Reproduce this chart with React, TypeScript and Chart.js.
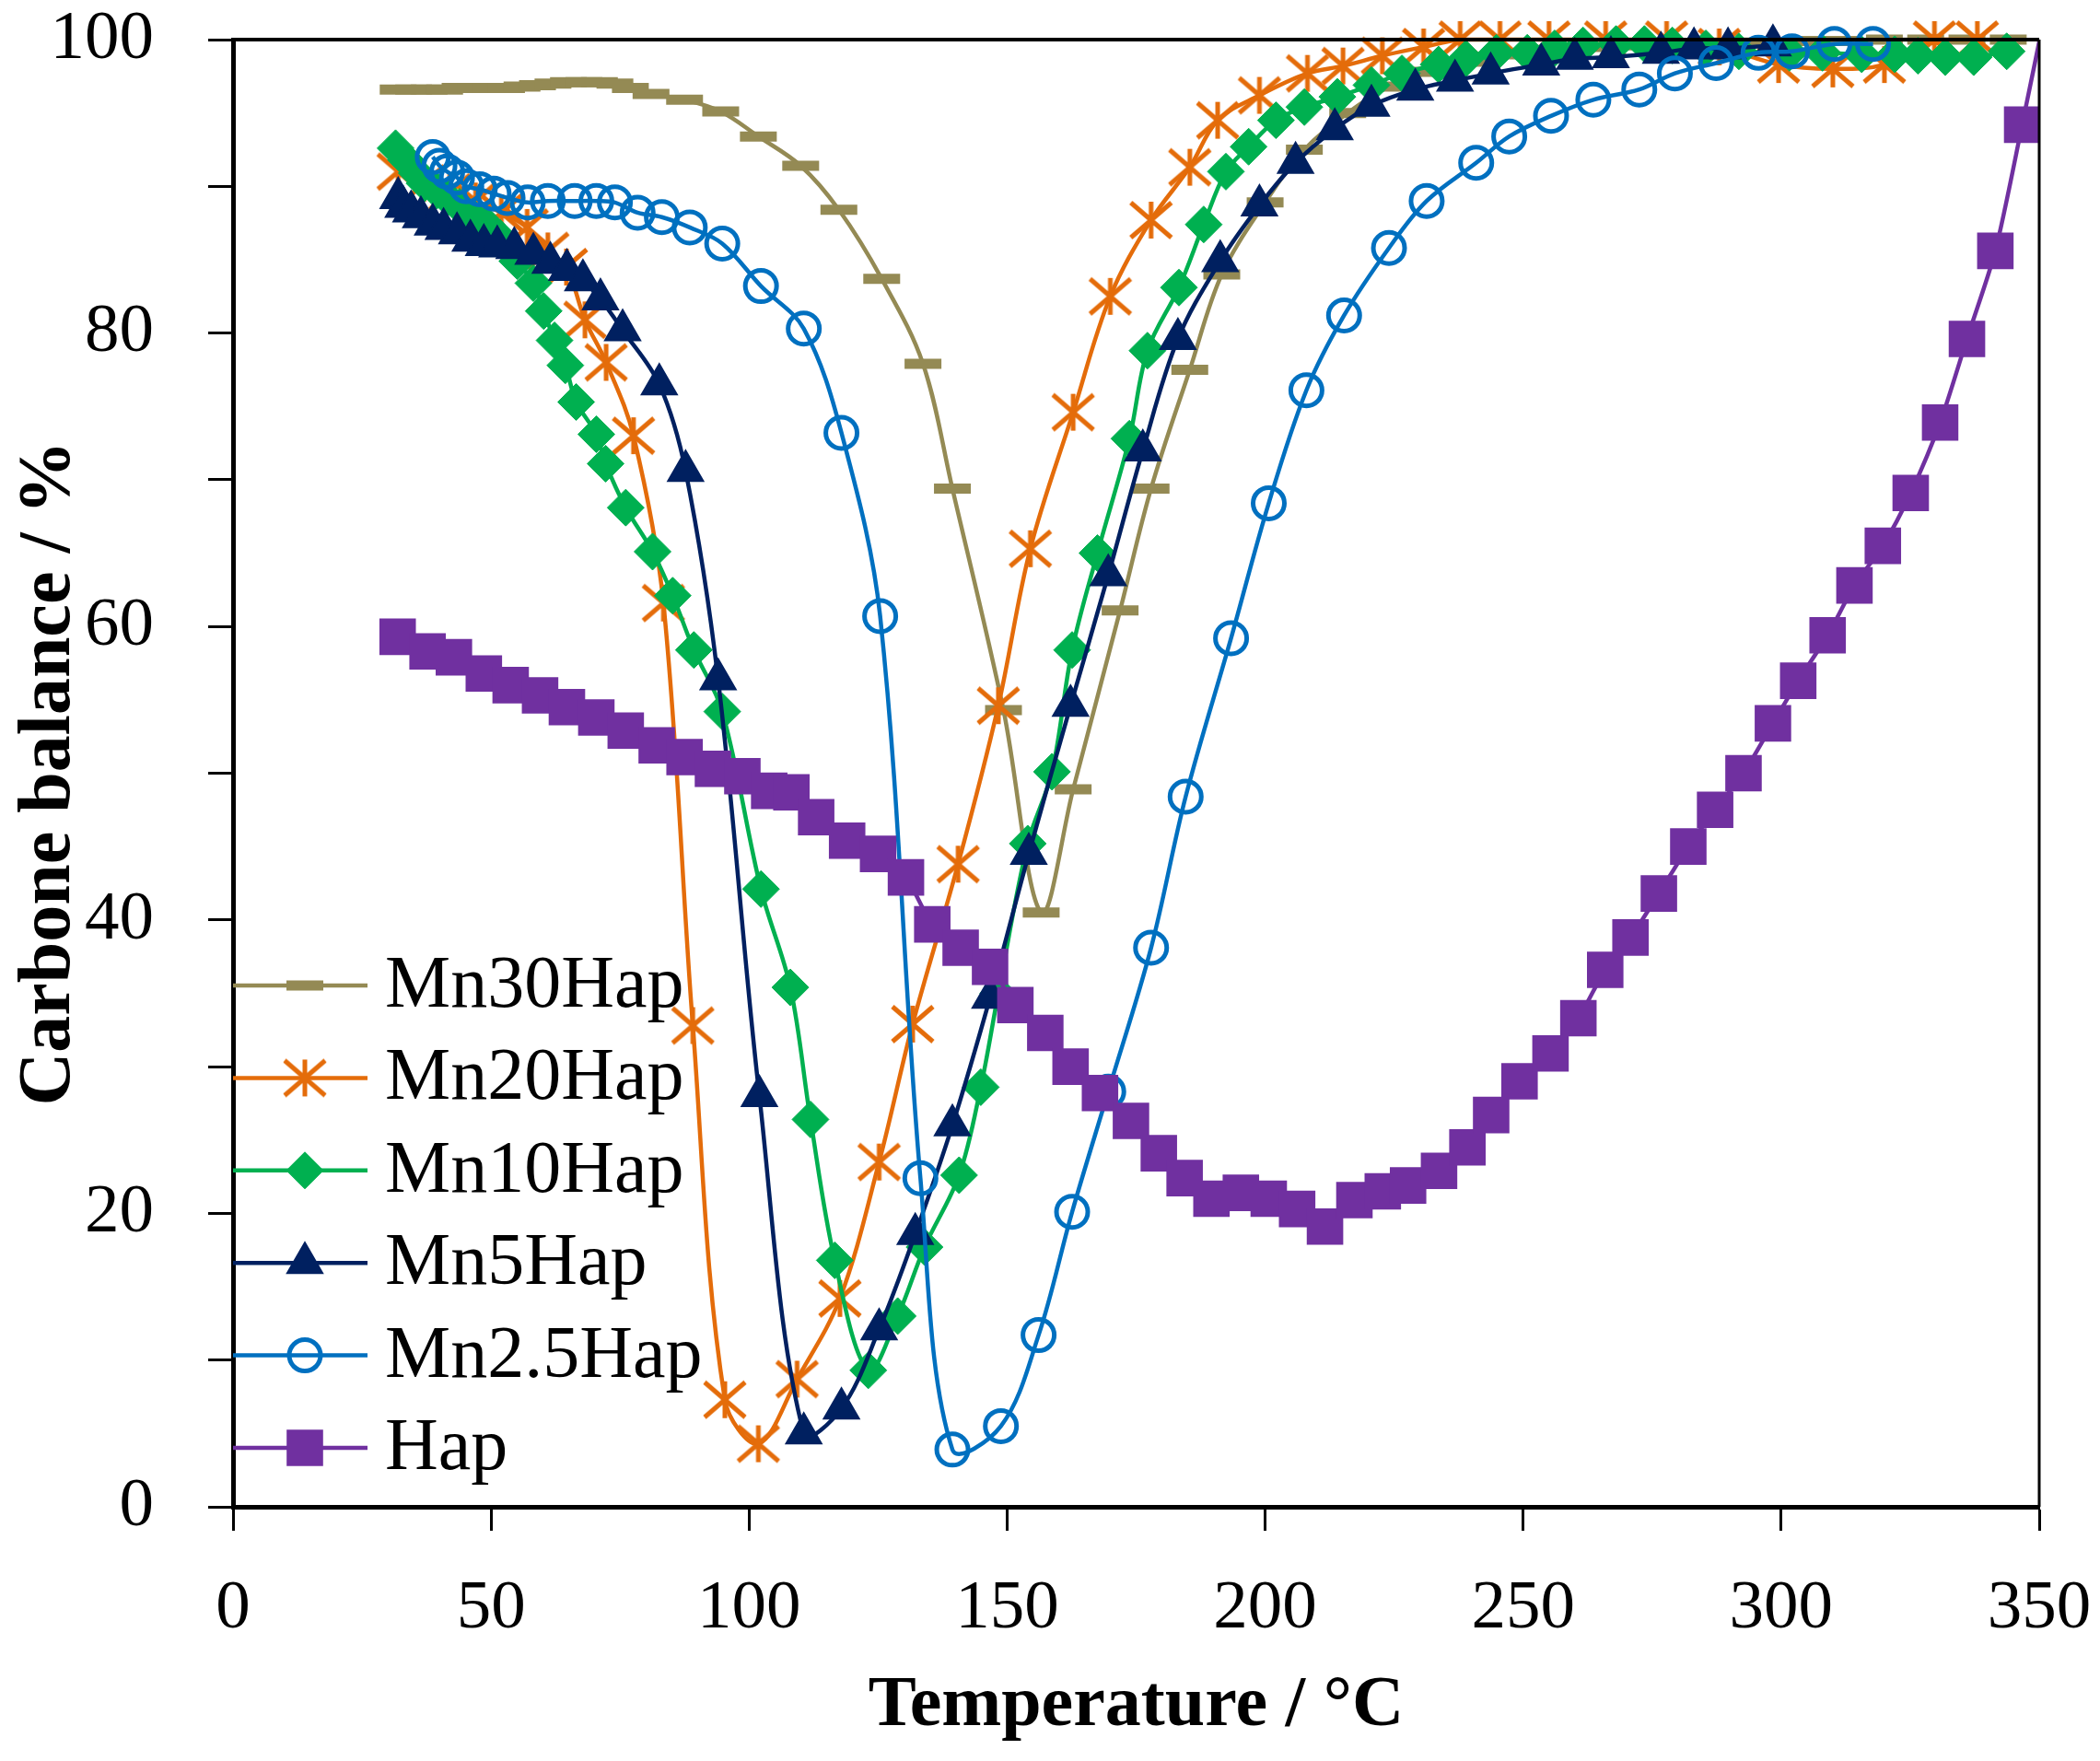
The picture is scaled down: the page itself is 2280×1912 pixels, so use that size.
import React, { useEffect, useRef } from 'react';
import { Chart, registerables } from 'chart.js';
import { drawPoint } from 'chart.js/helpers';

Chart.register(...registerables);

const FONT = '"Liberation Serif", "Times New Roman", serif';

// ---- data (temperature in °C, carbon balance in %) ----
const mn30T = [32, 35, 38, 41, 44, 47, 50, 53, 56, 59, 62, 65, 68, 71, 74, 77, 81, 87.5, 94.5, 101.8, 110, 117.4, 125.7, 133.7, 139.4, 149.3, 156.6, 162.8, 171.9, 177.9, 185.4, 191.6, 200, 207.6, 216, 224, 232, 240, 248, 256, 264, 272, 280, 288, 296, 304, 312, 320, 328, 336, 344];
const mn30Y = [96.6, 96.6, 96.6, 96.6, 96.7, 96.7, 96.7, 96.7, 96.8, 96.9, 97.0, 97.1, 97.1, 97.1, 97.0, 96.7, 96.3, 95.9, 95.1, 93.4, 91.4, 88.4, 83.7, 77.9, 69.4, 54.3, 40.5, 48.9, 61.1, 69.4, 77.5, 84.0, 88.9, 92.5, 95.0, 96.8, 97.8, 98.5, 99.0, 99.3, 99.5, 99.6, 99.7, 99.8, 99.8, 99.9, 99.9, 100, 100, 100, 100];

const mn20T = [32, 37, 42, 47, 52, 57, 61, 64.6, 68.2, 72.3, 77.6, 83.4, 89.1, 95.3, 101.8, 109.3, 117.6, 125.2, 131.7, 140.5, 148.3, 154.5, 162.8, 170, 177.9, 185.4, 190.8, 198.9, 208.2, 215.1, 222.7, 230.7, 237.8, 245.5, 255, 266, 277.8, 288, 299.5, 310, 320, 329.7, 338];
const mn20Y = [91, 90.2, 89.6, 89.0, 88.2, 87.2, 85.6, 84.5, 80.9, 78.0, 73.0, 61.6, 32.8, 7.3, 4.3, 8.7, 14.2, 23.5, 32.9, 43.8, 54.6, 65.3, 74.6, 82.5, 87.7, 91.3, 94.5, 96.2, 97.7, 98.2, 98.9, 99.5, 100, 100, 100, 100, 100, 99.5, 98.3, 98.0, 98.3, 100, 100];

const mn10T = [31.5, 33.5, 35.6, 37.1, 39.5, 41.5, 43.9, 46.5, 49.1, 51.7, 55.1, 58.2, 60.2, 62.3, 64.4, 66.5, 70.4, 72.2, 76.1, 81.3, 85.2, 89.3, 94.8, 102.3, 108, 111.9, 116.6, 123.1, 128.8, 134, 140.7, 144.9, 148.3, 154, 158.7, 162.6, 167.5, 173.7, 177.2, 183.3, 188.1, 192.4, 196.8, 202.1, 207.6, 214, 220.6, 226.5, 233.6, 238.9, 244.8, 250.8, 256.1, 261.6, 268, 273.5, 278.9, 285.4, 291.8, 301.6, 308, 315.6, 322, 326.5, 331.8, 337.3, 343.7];
const mn10Y = [92.6, 91.8, 90.9, 90.2, 89.7, 89.2, 88.6, 87.9, 87.4, 86.5, 84.9, 83.4, 81.5, 79.5, 77.8, 75.3, 73.1, 71.1, 68.1, 65.1, 62.1, 58.4, 54.2, 42.1, 35.4, 26.4, 16.8, 9.3, 13.0, 17.7, 22.6, 28.6, 35.0, 45.2, 50.1, 58.4, 65.0, 72.8, 78.8, 83.1, 87.4, 91.0, 92.7, 94.5, 95.4, 96.1, 96.9, 97.7, 98.3, 98.7, 99.1, 99.1, 99.4, 99.6, 99.7, 99.7, 99.6, 99.4, 99.2, 99.1, 99.1, 99.0, 99.0, 98.9, 98.8, 98.8, 99.2];

const mn5T = [32, 33, 34.5, 36.4, 38.7, 40.8, 43.4, 46, 48.6, 51.2, 54.5, 58.2, 61.5, 64.7, 67.8, 71.2, 75.5, 82.6, 87.7, 94, 102, 110.6, 117.9, 125.2, 132.2, 139.4, 146.7, 154.2, 162.3, 169.6, 176.3, 183.1, 191.3, 198.9, 205.9, 213.5, 220.6, 229.1, 236.8, 243.7, 253.5, 260, 267, 276.7, 283.1, 289.7, 298.4];
const mn5Y = [89.2, 88.6, 88.3, 87.9, 87.4, 87.1, 86.8, 86.3, 86.0, 85.9, 85.8, 85.4, 84.8, 84.3, 83.6, 82.3, 80.2, 76.5, 70.6, 56.4, 28.0, 5.0, 6.7, 12.1, 18.6, 26.0, 34.7, 44.5, 54.6, 63.5, 72.0, 79.6, 84.9, 88.7, 91.6, 93.9, 95.5, 96.6, 97.2, 97.7, 98.3, 98.7, 98.8, 99.1, 99.4, 99.4, 99.6];

const mn25T = [38.7, 40, 41.5, 43.4, 45.2, 47.8, 50.5, 53.2, 57.1, 61, 66.2, 70.4, 74, 78.4, 83.1, 88.5, 94.8, 102.3, 110.6, 117.9, 125.4, 133.2, 139.4, 148.8, 156.1, 162.6, 169.6, 177.9, 184.6, 193.4, 200.7, 208, 215.3, 224, 231.3, 240.9, 247.3, 255.4, 263.6, 272.5, 279.4, 287.4, 295.6, 302.1, 310.3, 317.8];
const mn25Y = [92.0, 91.4, 91.0, 90.6, 90.0, 89.8, 89.5, 89.2, 88.9, 89.0, 89.0, 89.0, 88.9, 88.2, 87.9, 87.2, 86.1, 83.2, 80.3, 73.2, 60.7, 22.4, 3.9, 5.5, 11.7, 20.1, 28.3, 38.1, 48.4, 59.2, 68.4, 76.1, 81.2, 85.8, 89.0, 91.6, 93.4, 94.8, 95.9, 96.6, 97.7, 98.4, 99.1, 99.2, 99.7, 99.7];

const hapT = [31.9, 37.7, 42.8, 48.6, 53.8, 59.5, 64.7, 70.4, 76.1, 82.1, 87.5, 93, 98.7, 103.9, 108.2, 113, 119, 125, 130.4, 135.5, 141, 146.7, 151.6, 157.4, 162.3, 168, 174, 179.4, 184.4, 189.6, 195.3, 200.7, 206.2, 211.6, 217.3, 222.8, 227.7, 233.7, 239.2, 243.8, 249.3, 255.3, 260.7, 265.9, 270.8, 276.3, 282, 287.2, 292.7, 298.4, 303.3, 309, 314.2, 319.7, 325.1, 330.8, 336, 341.5, 346.7, 352];
const hapY = [59.3, 58.3, 57.9, 56.8, 56.0, 55.3, 54.5, 53.8, 52.9, 51.9, 51.1, 50.3, 49.8, 48.8, 48.7, 47.0, 45.4, 44.5, 42.9, 39.7, 38.1, 36.8, 34.2, 32.3, 30.0, 28.2, 26.3, 24.1, 22.4, 21.0, 21.4, 21.0, 20.3, 19.1, 20.9, 21.5, 21.9, 22.9, 24.5, 26.7, 29.0, 30.9, 33.3, 36.6, 38.8, 41.8, 45.0, 47.5, 50.0, 53.4, 56.3, 59.4, 62.8, 65.5, 69.1, 73.9, 79.6, 85.6, 94.2, 103.3];

const seriesNames = ['Mn30Hap', 'Mn20Hap', 'Mn10Hap', 'Mn5Hap', 'Mn2.5Hap', 'Hap'];
const seriesColors = ['#948A54', '#E46C0A', '#00B050', '#002060', '#0070C0', '#7030A0'];

const xTicks = [0, 50, 100, 150, 200, 250, 300, 350];
const yLabelled = [0, 20, 40, 60, 80, 100];

const toXY = (t: number[], y: number[]) => t.map((v, i) => ({ x: v, y: y[i] }));

// asterisk marker like the one Excel uses
function makeAsterisk(color: string) {
  const c = document.createElement('canvas');
  c.width = 50;
  c.height = 46;
  const g = c.getContext('2d')!;
  g.strokeStyle = color;
  g.lineWidth = 5;
  g.beginPath();
  g.moveTo(25, 3);
  g.lineTo(25, 43);
  g.moveTo(3, 4);
  g.lineTo(47, 42);
  g.moveTo(47, 4);
  g.lineTo(3, 42);
  g.stroke();
  return c;
}

const frame = {
  id: 'frame',
  afterDraw(chart: any) {
    const { ctx, chartArea } = chart;
    ctx.save();
    ctx.strokeStyle = '#000';
    ctx.lineWidth = 4;
    ctx.beginPath();
    ctx.moveTo(chartArea.left, chartArea.top);
    ctx.lineTo(chartArea.right, chartArea.top);
    ctx.stroke();
    ctx.lineWidth = 3;
    ctx.beginPath();
    ctx.moveTo(chartArea.right, chartArea.top);
    ctx.lineTo(chartArea.right, chartArea.bottom);
    ctx.stroke();
    ctx.restore();
  },
};

const insideLegend = {
  id: 'insideLegend',
  afterDatasetsDraw(chart: any) {
    const { ctx, chartArea } = chart;
    const x0 = chartArea.left;
    const x1 = x0 + 146;
    const xm = x0 + 78;
    chart.data.datasets.forEach((ds: any, i: number) => {
      const y = chartArea.bottom - 566 + i * 100.4;
      ctx.save();
      ctx.strokeStyle = ds.borderColor;
      ctx.lineWidth = ds.borderWidth;
      ctx.beginPath();
      ctx.moveTo(x0, y);
      ctx.lineTo(x1, y);
      ctx.stroke();
      ctx.fillStyle = ds.pointBackgroundColor;
      ctx.strokeStyle = ds.pointBorderColor;
      ctx.lineWidth = ds.pointBorderWidth;
      drawPoint(ctx, { pointStyle: ds.pointStyle, radius: ds.pointRadius, borderWidth: ds.pointBorderWidth, rotation: 0 } as any, xm, y);
      ctx.fillStyle = '#000';
      ctx.font = `80px ${FONT}`;
      ctx.textAlign = 'left';
      ctx.textBaseline = 'alphabetic';
      ctx.fillText(ds.label, x0 + 165, y + 23);
      ctx.restore();
    });
  },
};

const App: React.FC = () => {
  const canvasRef = useRef<HTMLCanvasElement>(null);
  const chartRef = useRef<Chart | null>(null);

  useEffect(() => {
    document.body.style.margin = '0';
    if (!canvasRef.current) return;
    if (chartRef.current) chartRef.current.destroy();

    const common = { borderWidth: 4.5, tension: 0.35, clip: false as any };

    chartRef.current = new Chart(canvasRef.current, {
      type: 'line',
      data: {
        datasets: [
          {
            ...common,
            label: seriesNames[0],
            data: toXY(mn30T, mn30Y),
            borderColor: seriesColors[0],
            pointStyle: 'line',
            pointRadius: 20,
            pointBorderWidth: 11,
            pointBackgroundColor: seriesColors[0],
            pointBorderColor: seriesColors[0],
            order: 6,
          },
          {
            ...common,
            label: seriesNames[1],
            data: toXY(mn20T, mn20Y),
            borderColor: seriesColors[1],
            pointStyle: makeAsterisk(seriesColors[1]),
            pointRadius: 22,
            pointBorderWidth: 0,
            pointBackgroundColor: seriesColors[1],
            pointBorderColor: seriesColors[1],
            order: 5,
          },
          {
            ...common,
            label: seriesNames[2],
            data: toXY(mn10T, mn10Y),
            borderColor: seriesColors[2],
            pointStyle: 'rectRot',
            pointRadius: 20,
            pointBorderWidth: 1,
            pointBackgroundColor: seriesColors[2],
            pointBorderColor: seriesColors[2],
            order: 4,
          },
          {
            ...common,
            label: seriesNames[3],
            data: toXY(mn5T, mn5Y),
            borderColor: seriesColors[3],
            pointStyle: 'triangle',
            pointRadius: 22,
            pointBorderWidth: 2,
            pointBackgroundColor: seriesColors[3],
            pointBorderColor: seriesColors[3],
            order: 3,
          },
          {
            ...common,
            label: seriesNames[4],
            data: toXY(mn25T, mn25Y),
            borderColor: seriesColors[4],
            pointStyle: 'circle',
            pointRadius: 17,
            pointBorderWidth: 5,
            pointBackgroundColor: 'rgba(0,0,0,0)',
            pointBorderColor: seriesColors[4],
            order: 2,
          },
          {
            ...common,
            label: seriesNames[5],
            data: toXY(hapT, hapY),
            borderColor: seriesColors[5],
            pointStyle: 'rect',
            pointRadius: 28,
            pointBorderWidth: 0,
            pointBackgroundColor: seriesColors[5],
            pointBorderColor: seriesColors[5],
            tension: 0.25,
            clip: 0,
            order: 1,
          },
        ],
      },
      options: {
        animation: false,
        responsive: false,
        devicePixelRatio: 1,
        layout: { padding: { top: 43, right: 66, left: 0, bottom: 0 } },
        plugins: {
          legend: { display: false },
          tooltip: { enabled: false },
        },
        scales: {
          x: {
            type: 'linear',
            min: 0,
            max: 350,
            afterFit: (scale: any) => {
              scale.height = 276;
              scale.paddingLeft = 0;
              scale.paddingRight = 0;
            },
            afterBuildTicks: (scale: any) => {
              scale.ticks = xTicks.map((v) => ({ value: v }));
            },
            ticks: {
              color: '#000',
              font: { family: FONT, size: 75 },
              padding: 40,
              maxRotation: 0,
            },
            grid: {
              drawOnChartArea: false,
              drawTicks: true,
              tickLength: 26,
              tickWidth: 3,
              tickColor: '#000',
            },
            border: { display: true, color: '#000', width: 5 },
            title: {
              display: true,
              text: 'Temperature / °C',
              color: '#000',
              font: { family: FONT, size: 78, weight: 'bold' },
              padding: { top: 0, bottom: 12 },
            },
          },
          y: {
            min: 0,
            max: 100,
            afterFit: (scale: any) => {
              scale.width = 253;
              scale.paddingTop = 0;
              scale.paddingBottom = 0;
            },
            ticks: {
              stepSize: 10,
              color: '#000',
              font: { family: FONT, size: 75 },
              padding: 59,
              callback: (v: any) => (yLabelled.includes(Number(v)) ? String(v) : ''),
            },
            grid: {
              drawOnChartArea: false,
              drawTicks: true,
              tickLength: 27,
              tickWidth: 3,
              tickColor: '#000',
            },
            border: { display: true, color: '#000', width: 5 },
            title: {
              display: true,
              text: 'Carbone balance / %',
              color: '#000',
              font: { family: FONT, size: 80, weight: 'bold' },
              padding: { top: 6, bottom: 0 },
            },
          },
        },
      },
      plugins: [frame, insideLegend],
    });

    return () => {
      if (chartRef.current) {
        chartRef.current.destroy();
        chartRef.current = null;
      }
    };
  }, []);

  return (
    <div style={{ width: 2280, height: 1912, background: '#fff' }}>
      <canvas ref={canvasRef} width={2280} height={1912} style={{ display: 'block' }} />
    </div>
  );
};

export default App;
